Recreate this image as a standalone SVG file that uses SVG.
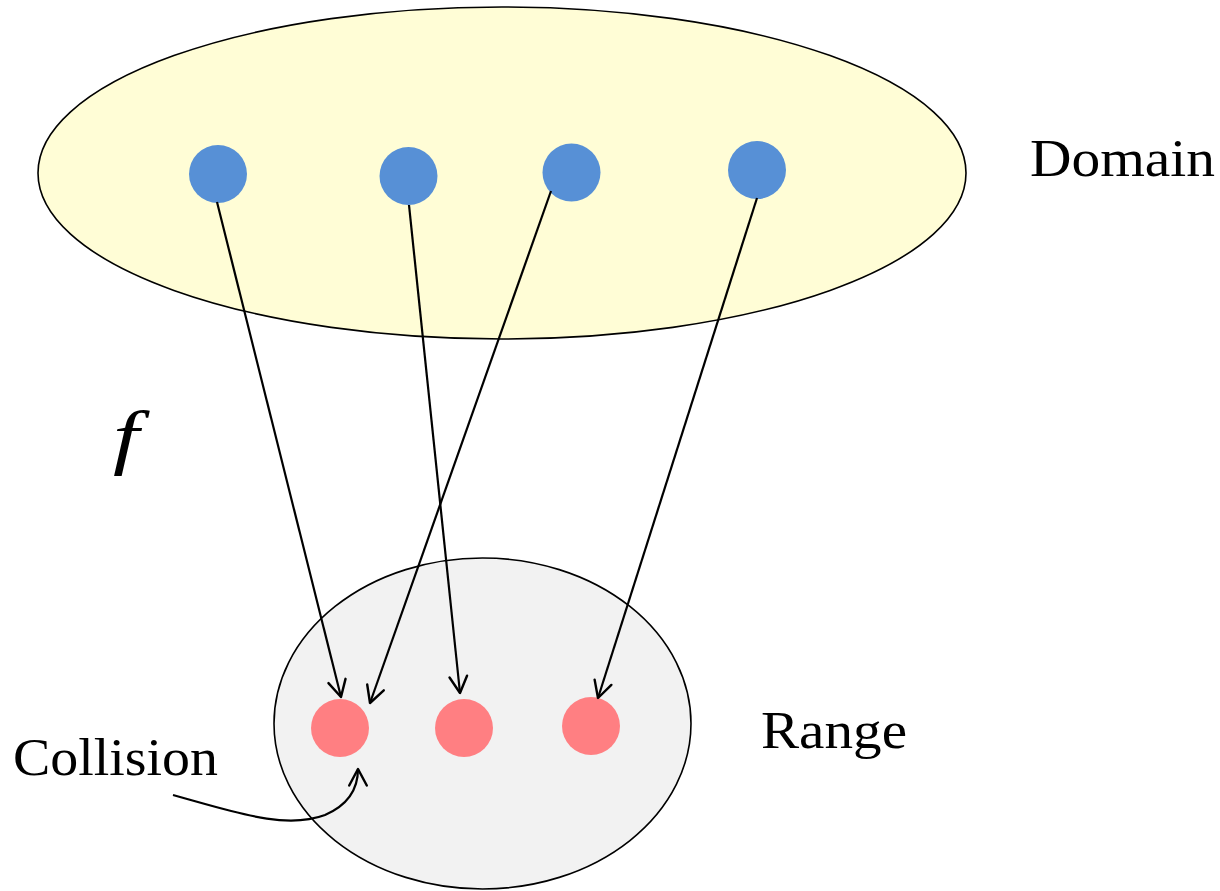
<svg xmlns="http://www.w3.org/2000/svg" width="1220" height="891" viewBox="0 0 1220 891">
  <style>
    .set { stroke: #000; stroke-width: 1.6; }
    .dom { fill: #5790D6; }
    .img { fill: #FF7F82; }
    .edge { fill: none; stroke: #000; stroke-width: 2.2; marker-end: url(#vhead); }
    .lbl { font-family: "Liberation Serif", "DejaVu Serif", serif; font-size: 52px; fill: #000; }
    .fn { font-style: italic; font-size: 72px; }
  </style>
  <defs>
    <marker id="vhead" markerWidth="22" markerHeight="22" refX="17" refY="9" orient="auto" markerUnits="userSpaceOnUse" viewBox="0 0 20 18">
      <path d="M2,1 L17,9 L2,17" fill="none" stroke="#000" stroke-width="2.2" stroke-linecap="round" stroke-linejoin="round"/>
    </marker>
  </defs>

  <!-- sets -->
  <g id="domain-set">
    <ellipse cx="502" cy="173" rx="464" ry="166" fill="#FFFDD6" class="set"/>
  </g>
  <g id="range-set">
    <ellipse cx="482.5" cy="723.5" rx="208.5" ry="165.5" fill="#F2F2F2" class="set"/>
  </g>

  <!-- domain elements -->
  <g id="x1"><circle cx="218" cy="174" r="29" class="dom"/></g>
  <g id="x2"><circle cx="408.5" cy="176" r="29" class="dom"/></g>
  <g id="x3"><circle cx="571.5" cy="172.5" r="29" class="dom"/></g>
  <g id="x4"><circle cx="757" cy="170" r="29" class="dom"/></g>

  <!-- range elements -->
  <g id="y1"><circle cx="340" cy="728" r="29" class="img"/></g>
  <g id="y2"><circle cx="464" cy="728" r="29" class="img"/></g>
  <g id="y3"><circle cx="591" cy="726" r="29" class="img"/></g>

  <!-- mappings -->
  <g id="connectors">
    <line class="edge" x1="217" y1="202" x2="341" y2="697"/>
    <line class="edge" x1="409" y1="205" x2="460" y2="693"/>
    <line class="edge" x1="551" y1="191" x2="370" y2="703"/>
    <line class="edge" x1="757" y1="198" x2="598" y2="698"/>
    <path class="edge" d="M173,795 C235,812 285,830 325,815 C348,805 358,790 358,769"/>
  </g>

  <!-- labels -->
  <g id="labels">
    <text class="lbl" x="1030" y="176" textLength="185" lengthAdjust="spacingAndGlyphs">Domain</text>
    <text class="lbl" x="761" y="748" textLength="146" lengthAdjust="spacingAndGlyphs">Range</text>
    <text class="lbl" x="13" y="775" textLength="205" lengthAdjust="spacingAndGlyphs">Collision</text>
    <text class="lbl fn" transform="translate(113,461) scale(1.3,1)">f</text>
  </g>
</svg>
